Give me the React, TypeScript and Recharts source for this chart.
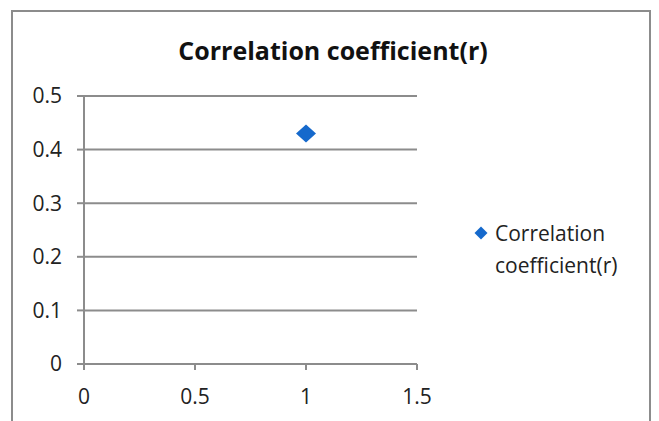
import React from "react";
import { ScatterChart, Scatter, XAxis, YAxis, CartesianGrid } from "recharts";

const seriesName = "Correlation coefficient(r)";
const legendLines = ["Correlation", "coefficient(r)"];
const xValues = [1];
const yValues = [0.43];
const xTicks = [0, 0.5, 1, 1.5];
const yTicks = [0, 0.1, 0.2, 0.3, 0.4, 0.5];

const data = xValues.map((x, i) => ({ x, y: yValues[i] }));

const BLUE = "#1569cc";
const GRAY = "#8c8c8c";
const FONT = "'Open Sans', sans-serif";

const Diamond = (props: any) => {
  const { cx, cy } = props;
  const w = 10, h = 9;
  return <path d={`M${cx},${cy - h} L${cx + w},${cy} L${cx},${cy + h} L${cx - w},${cy} Z`} fill={BLUE} />;
};

export default function App() {
  return (
    <div style={{ position: "absolute", left: 0, top: 0, width: 659, height: 421, overflow: "hidden", background: "#fff", fontVariantLigatures: "none" }}>
      <div style={{ position: "absolute", left: 11, top: 10, width: 640, height: 430, border: `2px solid ${GRAY}`, boxSizing: "border-box" }} />
      <div style={{ position: "absolute", left: 0, top: 33, width: 666, textAlign: "center", fontFamily: FONT, fontWeight: 700, fontSize: 25, lineHeight: "34px", color: "#111" }}>
        {seriesName}
      </div>
      <div style={{ position: "absolute", left: 474, top: 217, display: "flex", alignItems: "flex-start", fontFamily: FONT, fontSize: 21, color: "#222", lineHeight: "32px" }}>
        <svg width={14} height={32} style={{ marginRight: 7, flexShrink: 0 }}>
          <path d="M7,0.5 L13.5,7 L7,13.5 L0.5,7 Z" transform="translate(0,9)" fill={BLUE} />
        </svg>
        <div>
          {legendLines.map((l) => (
            <div key={l}>{l}</div>
          ))}
        </div>
      </div>
      <div style={{ position: "absolute", left: 0, top: 0 }}>
        <ScatterChart width={659} height={421} margin={{ top: 96, left: 24, right: 242, bottom: 17 }}>
          <CartesianGrid horizontal vertical={false} stroke={GRAY} strokeWidth={2} />
          <XAxis
            type="number"
            dataKey="x"
            domain={[0, 1.5]}
            ticks={xTicks}
            height={40}
            tickSize={6}
            tickMargin={19}
            axisLine={{ stroke: GRAY, strokeWidth: 2 }}
            tickLine={{ stroke: GRAY, strokeWidth: 2 }}
            tick={{ fill: "#222", fontSize: 21, fontFamily: FONT }}
          />
          <YAxis
            type="number"
            dataKey="y"
            domain={[0, 0.5]}
            ticks={yTicks}
            width={60}
            tickSize={7}
            tickMargin={15}
            axisLine={{ stroke: GRAY, strokeWidth: 2 }}
            tickLine={{ stroke: GRAY, strokeWidth: 2 }}
            tick={{ fill: "#222", fontSize: 21, fontFamily: FONT }}
          />
          <Scatter name={seriesName} data={data} fill={BLUE} shape={<Diamond />} isAnimationActive={false} />
        </ScatterChart>
      </div>
    </div>
  );
}
